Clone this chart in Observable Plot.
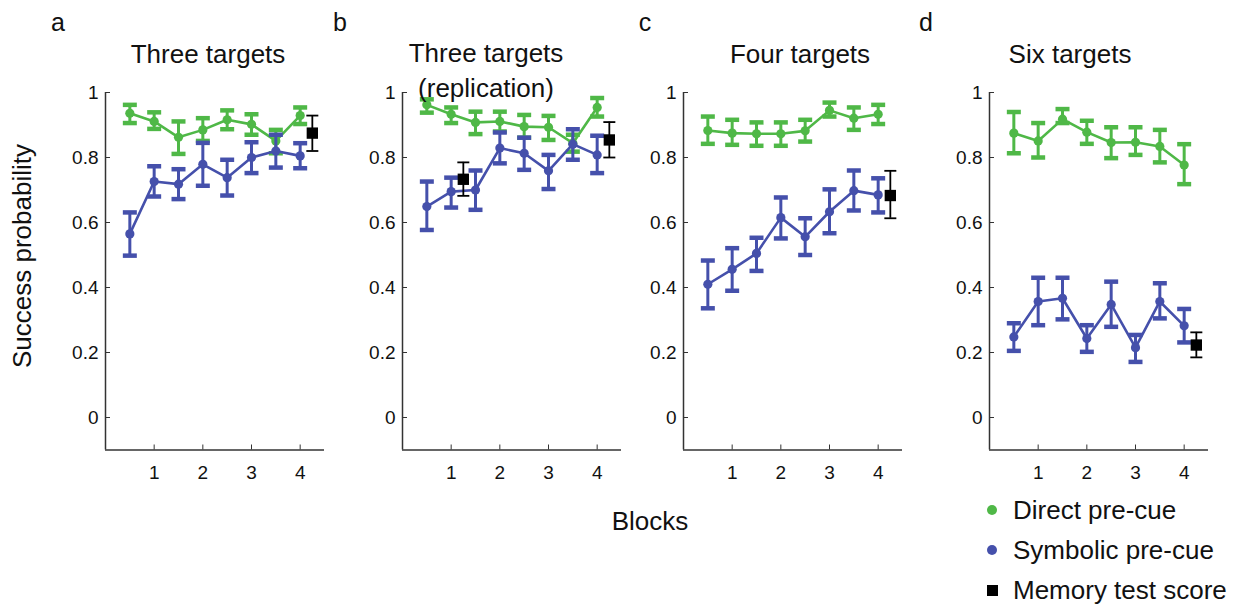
<!DOCTYPE html>
<html><head><meta charset="utf-8">
<script src="https://cdn.jsdelivr.net/npm/d3@7"></script>
<script src="https://cdn.jsdelivr.net/npm/@observablehq/plot@0.6"></script>
<style>
body{margin:0;background:#fff;font-family:"Liberation Sans",Arial,Helvetica,sans-serif;}
#fig{position:relative;width:1244px;height:606px;overflow:hidden;background:#fff;}
.t{position:absolute;white-space:nowrap;color:#111;font-size:26px;line-height:26px;}
.c{transform:translate(-50%,-50%);}
.l{transform:translate(0,-50%);}
.p{position:absolute;}
</style></head><body><div id="fig"></div>
<script>
// ---- data ----
const blocks = [0.5, 1, 1.5, 2, 2.5, 3, 3.5, 4];
const panelLetters = ["a", "b", "c", "d"];
const panelTitles = [["Three targets"], ["Three targets", "(replication)"], ["Four targets"], ["Six targets"]];
const xTicks = [1, 2, 3, 4];
const yTicks = [0, 0.2, 0.4, 0.6, 0.8, 1];
const yTickLabels = ["0", "0.2", "0.4", "0.6", "0.8", "1"];
const seriesNames = ["Direct pre-cue", "Symbolic pre-cue", "Memory test score"];

const directMean = [
  [0.936, 0.911, 0.862, 0.885, 0.916, 0.902, 0.851, 0.929],
  [0.962, 0.933, 0.908, 0.911, 0.895, 0.893, 0.844, 0.954],
  [0.883, 0.875, 0.873, 0.873, 0.882, 0.945, 0.921, 0.933],
  [0.875, 0.851, 0.918, 0.878, 0.846, 0.847, 0.834, 0.777]
];
const directHigh = [
  [0.962, 0.939, 0.911, 0.921, 0.945, 0.933, 0.885, 0.954],
  [0.979, 0.954, 0.941, 0.941, 0.931, 0.928, 0.870, 0.983],
  [0.926, 0.916, 0.908, 0.908, 0.916, 0.969, 0.954, 0.962],
  [0.940, 0.906, 0.949, 0.913, 0.893, 0.893, 0.885, 0.841]
];
const directLow = [
  [0.906, 0.888, 0.811, 0.851, 0.887, 0.870, 0.813, 0.903],
  [0.938, 0.906, 0.872, 0.880, 0.861, 0.854, 0.818, 0.926],
  [0.842, 0.839, 0.836, 0.836, 0.849, 0.926, 0.885, 0.903],
  [0.813, 0.800, 0.906, 0.842, 0.798, 0.808, 0.785, 0.718]
];
const symbolicMean = [
  [0.565, 0.726, 0.718, 0.779, 0.738, 0.800, 0.820, 0.805],
  [0.649, 0.695, 0.700, 0.829, 0.813, 0.759, 0.841, 0.808],
  [0.410, 0.456, 0.505, 0.615, 0.556, 0.633, 0.698, 0.685],
  [0.248, 0.357, 0.367, 0.243, 0.348, 0.215, 0.357, 0.282]
];
const symbolicHigh = [
  [0.631, 0.773, 0.764, 0.845, 0.793, 0.847, 0.870, 0.844],
  [0.726, 0.738, 0.760, 0.877, 0.861, 0.808, 0.887, 0.867],
  [0.483, 0.521, 0.553, 0.677, 0.613, 0.702, 0.760, 0.736],
  [0.290, 0.430, 0.430, 0.284, 0.418, 0.254, 0.413, 0.334]
];
const symbolicLow = [
  [0.498, 0.680, 0.672, 0.713, 0.683, 0.752, 0.769, 0.767],
  [0.577, 0.646, 0.639, 0.782, 0.762, 0.703, 0.793, 0.752],
  [0.336, 0.390, 0.451, 0.551, 0.500, 0.567, 0.637, 0.631],
  [0.205, 0.284, 0.302, 0.202, 0.279, 0.171, 0.305, 0.231]
];
const memoryPanel = [0, 1, 1, 2, 3];
const memoryBlock = [4.25, 1.25, 4.25, 4.25, 4.25];
const memoryMean = [0.875, 0.733, 0.854, 0.683, 0.223];
const memoryLow = [0.820, 0.682, 0.800, 0.613, 0.185];
const memoryHigh = [0.929, 0.785, 0.909, 0.759, 0.262];

// ---- layout / style ----
const green = "#4fb847", blue = "#4550ab", axisColor = "#333";
const xDomain = [0, 4.5], yDomain = [-0.1, 1];
const axisLeftPx = [105, 402, 683, 989];
const mL = 60, mR = 10, mT = 12, mB = 40.5, innerW = 219, innerH = 357.5;
const FONT = '"Liberation Sans", Arial, Helvetica, sans-serif';

const cap = {draw(ctx, size) { const w = Math.sqrt(size / Math.PI); ctx.moveTo(-w, 0); ctx.lineTo(w, 0); }};

const fig = document.getElementById("fig");
function addText(txt, x, y, cls, extra) {
  const d = document.createElement("div");
  d.className = "t " + cls;
  d.textContent = txt;
  d.style.left = x + "px"; d.style.top = y + "px";
  if (extra) Object.assign(d.style, extra);
  fig.appendChild(d);
  return d;
}

function rowsOf(mean, lo, hi) {
  return blocks.map((b, i) => ({block: b, mean: mean[i], lo: lo[i], hi: hi[i]}));
}

function seriesMarks(rows, color) {
  return [
    Plot.line(rows, {x: "block", y: "mean", stroke: color, strokeWidth: 2.6}),
    Plot.ruleX(rows, {x: "block", y1: "lo", y2: "hi", stroke: color, strokeWidth: 3}),
    Plot.dot(rows, {x: "block", y: "hi", symbol: cap, r: 7, stroke: color, fill: "none", strokeWidth: 4.5}),
    Plot.dot(rows, {x: "block", y: "lo", symbol: cap, r: 7, stroke: color, fill: "none", strokeWidth: 4.5}),
    Plot.dot(rows, {x: "block", y: "mean", r: 4.6, fill: color, stroke: "none"})
  ];
}

panelLetters.forEach((letter, p) => {
  const direct = rowsOf(directMean[p], directLow[p], directHigh[p]);
  const symbolic = rowsOf(symbolicMean[p], symbolicLow[p], symbolicHigh[p]);
  const memory = memoryPanel.map((mp, i) => ({panel: mp, block: memoryBlock[i], mean: memoryMean[i], lo: memoryLow[i], hi: memoryHigh[i]})).filter(d => d.panel === p);

  const chart = Plot.plot({
    width: mL + innerW + mR,
    height: mT + innerH + mB,
    marginLeft: mL, marginRight: mR, marginTop: mT, marginBottom: mB,
    x: {domain: xDomain},
    y: {domain: yDomain},
    style: {fontFamily: FONT, background: "transparent", overflow: "visible", color: "#111"},
    marks: [
      Plot.ruleX([xDomain[0]], {stroke: axisColor, strokeWidth: 1.5}),
      Plot.ruleY([yDomain[0]], {stroke: axisColor, strokeWidth: 1.5}),
      Plot.axisY(yTicks, {tickSize: -5, tickPadding: 12, fontSize: 19, stroke: axisColor, tickFormat: d => yTickLabels[yTicks.indexOf(d)], label: null}),
      Plot.axisX(xTicks, {tickSize: -5, tickPadding: 20, fontSize: 19, stroke: axisColor, label: null}),
      ...seriesMarks(direct, green),
      ...seriesMarks(symbolic, blue),
      Plot.ruleX(memory, {x: "block", y1: "lo", y2: "hi", stroke: "#000", strokeWidth: 1.8}),
      Plot.dot(memory, {x: "block", y: "hi", symbol: cap, r: 6, stroke: "#000", fill: "none", strokeWidth: 1.8}),
      Plot.dot(memory, {x: "block", y: "lo", symbol: cap, r: 6, stroke: "#000", fill: "none", strokeWidth: 1.8}),
      Plot.dot(memory, {x: "block", y: "mean", symbol: "square", r: 6.4, fill: "#000", stroke: "none"})
    ]
  });
  const holder = document.createElement("div");
  holder.className = "p";
  holder.style.left = (axisLeftPx[p] - mL) + "px";
  holder.style.top = (92 - mT) + "px";
  holder.appendChild(chart);
  fig.appendChild(holder);
});

// panel letters and titles
const letterX = [58, 340, 645, 926];
panelLetters.forEach((l, i) => addText(l, letterX[i], 22, "c", {fontSize: "25px"}));
const titleX = [208, 486, 800, 1070];
const titleY = [[54], [53, 88], [54], [54]];
panelTitles.forEach((lines, i) => lines.forEach((line, j) => addText(line, titleX[i], titleY[i][j], "c")));

// axis labels
addText("Success probability", 22, 256, "c", {transform: "translate(-50%,-50%) rotate(-90deg)"});
addText("Blocks", 650, 521, "c");

// legend
const legendY = [510, 550, 590];
const legendColors = [green, blue, "#000"];
seriesNames.forEach((name, i) => {
  const m = document.createElement("div");
  m.style.position = "absolute";
  const s = i < 2 ? 10 : 11;
  m.style.width = s + "px"; m.style.height = s + "px";
  m.style.left = (992 - s / 2) + "px"; m.style.top = (legendY[i] - s / 2) + "px";
  m.style.background = legendColors[i];
  m.style.borderRadius = i < 2 ? "50%" : "0";
  fig.appendChild(m);
  addText(name, 1013, legendY[i], "l");
});
</script></body></html>
